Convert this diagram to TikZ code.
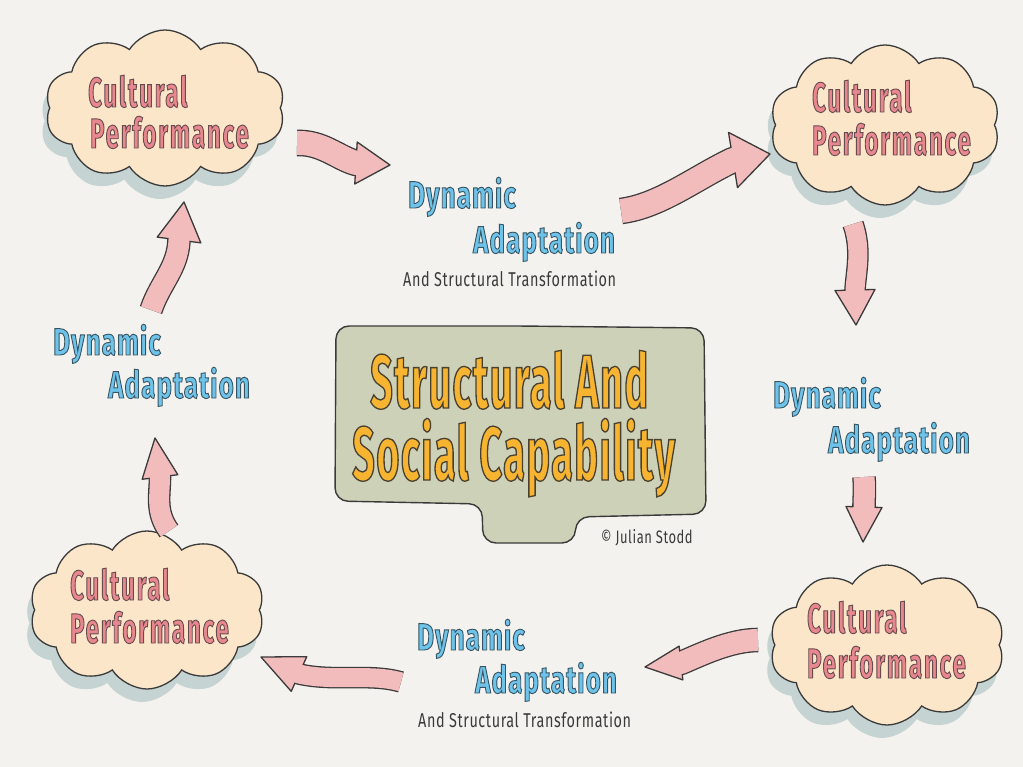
\documentclass[tikz,border=0pt]{standalone}
\usepackage{fontspec}
\usetikzlibrary{shapes.symbols,calc}
\newfontfamily\fcloud[FakeStretch=0.57,LetterSpace=4.5]{Fira Sans}
\newfontfamily\fblue[FakeStretch=0.68,LetterSpace=3]{Fira Sans}
\newfontfamily\fcenter[FakeStretch=0.52,LetterSpace=2]{Fira Sans}
\newfontfamily\fsmall[FakeStretch=0.72,LetterSpace=3]{Fira Sans}
\definecolor{bg}{HTML}{F4F2EE}
\definecolor{ink}{HTML}{3A3A3A}
\definecolor{cloudfill}{HTML}{FBE6CA}
\definecolor{shadowc}{HTML}{C5D4D2}
\definecolor{pinkfill}{HTML}{E8878E}
\definecolor{bluefill}{HTML}{6EC3EB}
\definecolor{orangefill}{HTML}{F6B431}
\definecolor{boxfill}{HTML}{CDD1B8}
\definecolor{arrpinkc}{HTML}{F2BBBC}
% outlined text: fill in current colour, stroke in the given rgb
\newcommand\otext[3]{\special{pdf:literal direct #1 RG #2 w 2 Tr}#3\special{pdf:literal direct 0 Tr}}
\newcommand\barrow[4]{%
  \draw[ink, line width=\the\dimexpr#2pt+2.6pt\relax, line join=round, line cap=butt]
    (#1s) .. controls (#1c) and (#1d) .. (#1b) -- ($(#1b)!6pt!(#1t)$);
  \filldraw[fill=arrpinkc, draw=ink, line width=1.3pt, line join=round]
    ($(#1b)!#3pt!90:(#1t)$) -- (#1t) -- ($(#1b)!#3pt!-90:(#1t)$) -- cycle;
  \draw[arrpinkc, line width=#2pt, line join=round, line cap=butt]
    (#1s) .. controls (#1c) and (#1d) .. (#1b) -- ($(#1b)!6pt!(#1t)$);
}
\begin{document}
\begin{tikzpicture}[x=1pt,y=-1pt,
  cloudbody/.style={cloud, cloud puffs=10, cloud puff arc=115, cloud ignores aspect,
    fill=cloudfill, draw=ink, line width=1.3pt, inner sep=0pt},
  cloudshadow/.style={cloud, cloud puffs=10, cloud puff arc=115, cloud ignores aspect,
    fill=shadowc, draw=none, inner sep=0pt},
  cloudtxt/.style={anchor=base west, inner sep=0pt, text=pinkfill,
    font=\fcloud\bfseries\fontsize{42}{42}\selectfont},
  bluetxt/.style={anchor=base west, inner sep=0pt, text=bluefill,
    font=\fblue\bfseries\fontsize{38}{38}\selectfont},
  smalltxt/.style={anchor=base west, inner sep=0pt, text=ink,
    font=\fsmall\fontsize{20}{20}\selectfont},
  centertxt/.style={anchor=base west, inner sep=0pt, text=orangefill,
    font=\fcenter\bfseries\fontsize{76}{76}\selectfont}
]
\useasboundingbox (0,0) rectangle (1023,767);
\fill[bg] (0,0) rectangle (1023,767);

% clouds
\node[cloudshadow, minimum width=240pt, minimum height=156pt] (sTL) at (160,121) {};
\node[cloudbody, minimum width=240pt, minimum height=156pt] (cTL) at (165,108) {};
\node[cloudshadow, minimum width=230pt, minimum height=160pt] (sTR) at (880,138) {};
\node[cloudbody, minimum width=230pt, minimum height=160pt] (cTR) at (885,125) {};
\node[cloudshadow, minimum width=235pt, minimum height=158pt] (sBL) at (142,623) {};
\node[cloudbody, minimum width=235pt, minimum height=158pt] (cBL) at (147,610) {};
\node[cloudshadow, minimum width=235pt, minimum height=160pt] (sBR) at (882,658) {};
\node[cloudbody, minimum width=235pt, minimum height=160pt] (cBR) at (887,645) {};

% cloud texts
\node[cloudtxt] (tTL1) at (88,107) {\otext{0.40 0.30 0.31}{0.9}{Cultural}};
\node[cloudtxt] (tTL2) at (90,148) {\otext{0.40 0.30 0.31}{0.9}{Performance}};
\node[cloudtxt] (tTR1) at (812,112) {\otext{0.40 0.30 0.31}{0.9}{Cultural}};
\node[cloudtxt] (tTR2) at (812,155) {\otext{0.40 0.30 0.31}{0.9}{Performance}};
\node[cloudtxt] (tBL1) at (70,600) {\otext{0.40 0.30 0.31}{0.9}{Cultural}};
\node[cloudtxt] (tBL2) at (70,643) {\otext{0.40 0.30 0.31}{0.9}{Performance}};
\node[cloudtxt] (tBR1) at (807,633) {\otext{0.40 0.30 0.31}{0.9}{Cultural}};
\node[cloudtxt] (tBR2) at (807,678) {\otext{0.40 0.30 0.31}{0.9}{Performance}};

% dynamic adaptation labels
\node[bluetxt] (dT1) at (408,208) {\otext{0.22 0.33 0.38}{0.9}{Dynamic}};
\node[bluetxt] (dT2) at (473,253) {\otext{0.22 0.33 0.38}{0.9}{Adaptation}};
\node[smalltxt] (dT3) at (403,287) {And Structural Transformation};
\node[bluetxt] (dR1) at (773,408) {\otext{0.22 0.33 0.38}{0.9}{Dynamic}};
\node[bluetxt] (dR2) at (828,453) {\otext{0.22 0.33 0.38}{0.9}{Adaptation}};
\node[bluetxt] (dL1) at (53,355) {\otext{0.22 0.33 0.38}{0.9}{Dynamic}};
\node[bluetxt] (dL2) at (108,398) {\otext{0.22 0.33 0.38}{0.9}{Adaptation}};
\node[bluetxt] (dB1) at (417,650) {\otext{0.22 0.33 0.38}{0.9}{Dynamic}};
\node[bluetxt] (dB2) at (475,693) {\otext{0.22 0.33 0.38}{0.9}{Adaptation}};
\node[smalltxt] (dB3) at (418,727) {And Structural Transformation};

% center box
\filldraw[fill=boxfill, draw=ink, line width=1.4pt, rounded corners=13pt]
  (520,326) -- (704,328) -- (706,514) -- (576,517) -- (575,543) -- (483,543)
  -- (482,504) -- (335,501) -- (336,326) -- cycle;
\node[centertxt] (cen1) at (370,408) {\otext{0.29 0.25 0.19}{1.3}{Structural And}};
\node[centertxt] (cen2) at (352,480) {\otext{0.29 0.25 0.19}{1.3}{Social Capability}};
\node[anchor=base west, inner sep=0pt, text=ink, font=\fsmall\fontsize{18}{18}\selectfont]
  (copy) at (601,543) {© Julian Stodd};

% arrows
\coordinate (a1s) at (297,143); \coordinate (a1c) at (322,142); \coordinate (a1d) at (338,158);
\coordinate (a1b) at (356,163); \coordinate (a1t) at (390,165);
\coordinate (a2s) at (621,211); \coordinate (a2c) at (660,206); \coordinate (a2d) at (695,178);
\coordinate (a2b) at (733,160); \coordinate (a2t) at (770,154);
\coordinate (a3s) at (853,224); \coordinate (a3c) at (862,250); \coordinate (a3d) at (856,272);
\coordinate (a3b) at (855,290); \coordinate (a3t) at (856,325);
\coordinate (a4s) at (864,477); \coordinate (a4c) at (865,490); \coordinate (a4d) at (864,498);
\coordinate (a4b) at (864,507); \coordinate (a4t) at (863,542);
\coordinate (a5s) at (758,640); \coordinate (a5c) at (730,640); \coordinate (a5d) at (700,655);
\coordinate (a5b) at (681,663); \coordinate (a5t) at (645,667);
\coordinate (a6s) at (401,682); \coordinate (a6c) at (370,673); \coordinate (a6d) at (335,682);
\coordinate (a6b) at (299,674); \coordinate (a6t) at (261,657);
\coordinate (a7s) at (169,531); \coordinate (a7c) at (155,512); \coordinate (a7d) at (160,495);
\coordinate (a7b) at (160,477); \coordinate (a7t) at (155,438);
\coordinate (a8s) at (151,310); \coordinate (a8c) at (160,283); \coordinate (a8d) at (178,268);
\coordinate (a8b) at (179,240); \coordinate (a8t) at (184,202);
\barrow{a1}{24}{21}{}
\barrow{a2}{24}{28}{}
\barrow{a3}{19}{20}{}
\barrow{a4}{21}{18}{}
\barrow{a5}{22}{17}{}
\barrow{a6}{19}{19}{}
\barrow{a7}{20}{18}{}
\barrow{a8}{21}{22}{}
\end{tikzpicture}
\end{document}
